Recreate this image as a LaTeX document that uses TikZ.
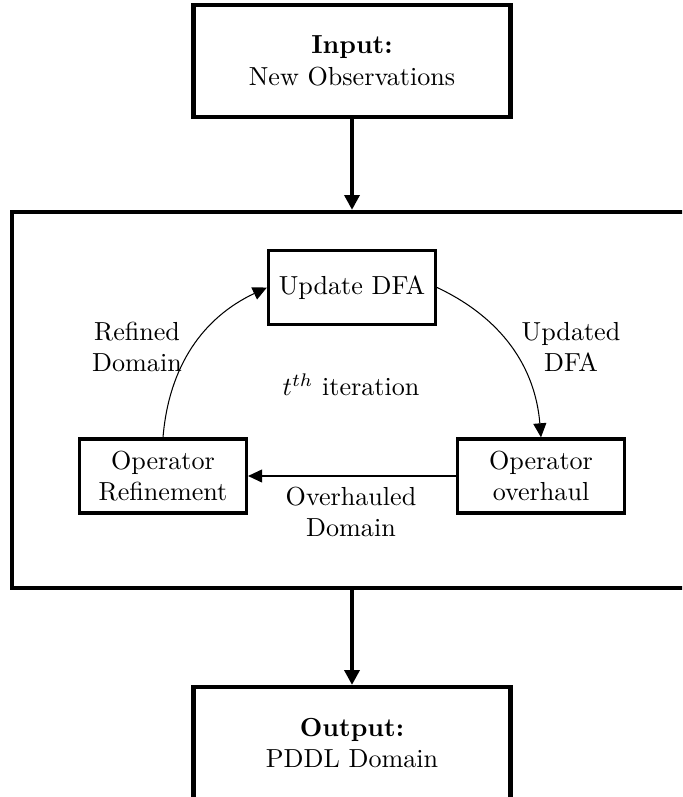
\documentclass[tikz,border=0pt]{standalone}
\usetikzlibrary{arrows.meta}
\begin{document}
\begin{tikzpicture}[x=0.3832pt,y=-0.3832pt,
  iobox/.style={draw,ultra thick,align=center,minimum width=121.5pt,minimum height=42.9pt,inner sep=0pt},
  stepbox/.style={draw,very thick,align=center,minimum width=64pt,minimum height=28.4pt,inner sep=0pt},
  mainarrow/.style={ultra thick,-{Triangle[length=5.7pt,width=5.7pt]}},
  looparrow/.style={-{Triangle[length=5.4pt,width=5pt]}},
  lbl/.style={align=center,inner sep=0pt}]
\useasboundingbox (0,0) rectangle (682,797);
\clip (0,0) rectangle (682,797);
\node[iobox] (input) at (352,61) {\textbf{Input:}\\New Observations};
\node[draw,ultra thick,minimum width=260.6pt,minimum height=144.1pt,inner sep=0pt] (loop) at (352,400) {};
\node[iobox] (output) at (352,743) {\textbf{Output:}\\PDDL Domain};
\node[stepbox] (update) at (352,287.5) {Update DFA};
\node[stepbox] (refine) at (163,476) {Operator\\Refinement};
\node[stepbox] (overhaul) at (541,476) {Operator\\overhaul};
\node[lbl] (l1) at (137,347) {Refined\\Domain};
\node[lbl] (l2) at (571,347) {Updated\\DFA};
\node[lbl] (l3) at (351,385) {$t^{th}$ iteration};
\node[lbl] (l4) at (351,512) {Overhauled\\Domain};
\draw[mainarrow] (input.south) -- (loop.north);
\draw[mainarrow] (loop.south) -- (output.north);
\draw[looparrow] (refine.north) to[bend left=30] (update.west);
\draw[looparrow] (update.east) to[bend left=30] (overhaul.north);
\draw[looparrow] (overhaul.west) -- (refine.east);
\end{tikzpicture}
\end{document}
